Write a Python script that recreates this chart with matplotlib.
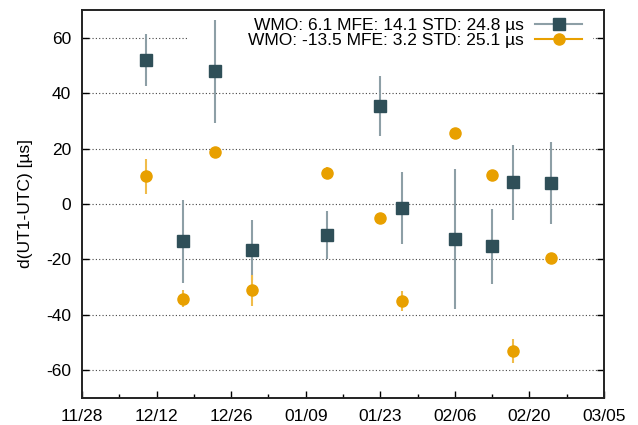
import matplotlib
matplotlib.use("Agg")
import matplotlib.pyplot as plt
import matplotlib.dates as mdates
from matplotlib.patches import Rectangle
from matplotlib.lines import Line2D
import datetime as dt

plt.rcParams['font.family'] = ['Liberation Sans', 'DejaVu Sans']
plt.rcParams['axes.unicode_minus'] = False

# Data
dates = ["2023-12-10", "2023-12-17", "2023-12-23", "2023-12-30", "2024-01-13",
         "2024-01-23", "2024-01-27", "2024-02-06", "2024-02-13", "2024-02-17", "2024-02-24"]
wmo_vals = [52.0, -13.5, 47.9, -16.6, -11.1, 35.5, -1.5, -12.6, -15.3, 7.8, 7.6]
wmo_err = [9.3, 15.0, 18.6, 11.0, 8.7, 10.8, 13.1, 25.2, 13.4, 13.4, 14.9]
mfe_vals = [10.0, -34.1, 18.9, -31.2, 11.2, -5.1, -34.9, 25.5, 10.3, -52.9, -19.6]
mfe_err = [6.4, 3.0, 1.0, 5.5, 2.0, 2.0, 3.6, 1.0, 2.0, 4.3, 1.0]
labels = ["WMO: 6.1 MFE: 14.1 STD: 24.8 \u00b5s", "WMO: -13.5 MFE: 3.2 STD: 25.1 \u00b5s"]
xtick_dates = ["2023-11-28", "2023-12-12", "2023-12-26", "2024-01-09", "2024-01-23",
               "2024-02-06", "2024-02-20", "2024-03-05"]
yticks = [-60, -40, -20, 0, 20, 40, 60]

x = [dt.datetime.strptime(d, "%Y-%m-%d") for d in dates]
xt = [dt.datetime.strptime(d, "%Y-%m-%d") for d in xtick_dates]

sq_color = '#2f4f58'
sq_err = '#8d9fa6'
ci_color = '#e8a000'
ci_err = '#f0bc4a'
FS = 12.5

fig = plt.figure(figsize=(6.38, 4.25), dpi=100)
ax = fig.add_axes([82/638, 1-398/425, 522/638, 388/425])

ax.errorbar(x, wmo_vals, yerr=wmo_err, fmt='s', color=sq_color, ecolor=sq_err,
            elinewidth=1.5, markersize=8, capsize=0, zorder=3)
ax.errorbar(x, mfe_vals, yerr=mfe_err, fmt='o', color=ci_color, ecolor=ci_err,
            elinewidth=1.5, markersize=8, capsize=0, zorder=3)

ax.set_ylim(-70, 70)
ax.set_xlim(xt[0], xt[-1])
ax.set_yticks(yticks)
ax.set_xticks(xt)
ax.xaxis.set_major_formatter(mdates.DateFormatter('%m/%d'))
minor = [xt[0] + dt.timedelta(days=7 + 14 * i) for i in range(7)]
ax.set_xticks(minor, minor=True)

ax.yaxis.grid(True, linestyle=(0, (1, 2)), color='#444444', linewidth=0.8)
ax.set_axisbelow(True)

ax.tick_params(axis='y', direction='in', left=True, right=True, length=5, width=1,
               labelsize=FS, pad=8)
ax.tick_params(axis='x', which='major', direction='in', top=False, length=5, width=1,
               labelsize=FS, pad=8)
ax.tick_params(axis='x', which='minor', direction='in', top=False, length=3, width=1)
for s in ax.spines.values():
    s.set_linewidth(1.4)
    s.set_color('#222222')

ax.set_ylabel('d(UT1-UTC) [\u00b5s]', fontsize=FS, labelpad=9)

ax.add_patch(Rectangle((0.203, 0.892), 0.776, 0.098, transform=ax.transAxes,
                       facecolor='white', edgecolor='none', zorder=1))

handles = [
    Line2D([], [], color=sq_err, lw=1.5, marker='s', ms=8, mfc=sq_color, mec=sq_color),
    Line2D([], [], color=ci_color, lw=1.5, marker='o', ms=8, mfc=ci_color, mec=ci_color),
]
ax.legend(handles, labels, loc='upper right', markerfirst=False, frameon=False,
          fontsize=FS, handlelength=2.7, handletextpad=0.63, borderaxespad=0,
          borderpad=0, labelspacing=0.0,
          bbox_to_anchor=((582-82)/522, (398-18)/388))

fig.savefig('out.png', dpi=100)
